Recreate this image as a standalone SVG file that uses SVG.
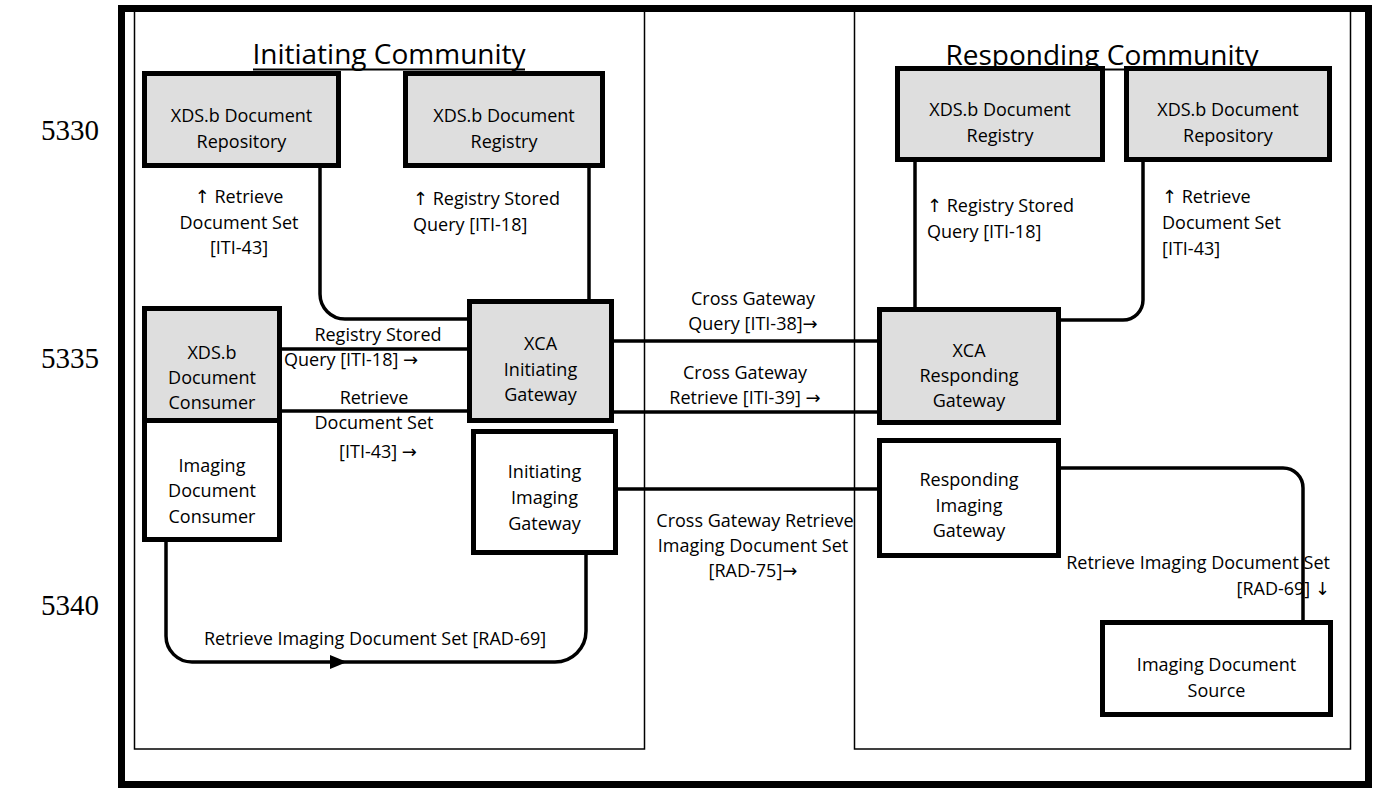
<svg xmlns="http://www.w3.org/2000/svg" width="1373" height="789" viewBox="0 0 1373 789">
<style>
text{font-family:"Open Sans","Noto Sans","DejaVu Sans",sans-serif;font-size:18px;fill:#000}
.num{font-family:"Liberation Serif","Times New Roman",serif;font-size:29px}
.title{font-size:28px;text-anchor:middle}
.c{text-anchor:middle}
.e{text-anchor:end}
.frame{fill:none;stroke:#000;stroke-width:1.5}
.box{stroke:#000;stroke-width:5}
.g{fill:#dedede}
.w{fill:#fff}
.ln{fill:none;stroke:#000;stroke-width:3.5}
</style>
<rect width="1373" height="789" fill="#fff"/>
<g id="line-numbers">
<text class="num" x="41" y="140">5330</text>
<text class="num" x="41" y="368">5335</text>
<text class="num" x="41" y="615">5340</text>
</g>
<g id="labels">
<text class="c" x="239" y="203">↑ Retrieve</text>
<text class="c" x="239" y="229">Document Set</text>
<text class="c" x="239" y="254">[ITI-43]</text>
<text x="413" y="205">↑ Registry Stored</text>
<text x="413" y="231">Query [ITI-18]</text>
<text x="927" y="212">↑ Registry Stored</text>
<text x="927" y="238">Query [ITI-18]</text>
<text x="1162" y="203">↑ Retrieve</text>
<text x="1162" y="229">Document Set</text>
<text x="1162" y="255">[ITI-43]</text>
<text class="c" x="378" y="341">Registry Stored</text>
<text x="284" y="366">Query [ITI-18] →</text>
<text class="c" x="374" y="404">Retrieve</text>
<text class="c" x="374" y="429">Document Set</text>
<text class="c" x="378" y="458">[ITI-43] →</text>
<text class="c" x="753" y="305">Cross Gateway</text>
<text class="c" x="753" y="330">Query [ITI-38]→</text>
<text class="c" x="745" y="379">Cross Gateway</text>
<text class="c" x="745" y="404">Retrieve [ITI-39] →</text>
<text class="c" x="755" y="527">Cross Gateway Retrieve</text>
<text class="c" x="753" y="552">Imaging Document Set</text>
<text class="c" x="753" y="577">[RAD-75]→</text>
<text class="e" x="1330" y="569">Retrieve Imaging Document Set</text>
<text class="e" x="1330" y="595">[RAD-69] ↓</text>
<text x="204" y="645">Retrieve Imaging Document Set [RAD-69]</text>
</g>
<g id="frames">
<rect x="121.5" y="8.5" width="1247" height="776" fill="none" stroke="#000" stroke-width="7"/>
<rect class="frame" x="134.5" y="10" width="510" height="739"/>
<rect class="frame" x="854.5" y="10" width="496" height="739"/>
<text class="title" x="389" y="64">Initiating Community</text>
<line x1="253" y1="69.5" x2="525" y2="69.5" stroke="#000" stroke-width="2"/>
<text class="title" x="1102" y="65">Responding Community</text>
<line x1="946" y1="69.5" x2="1258" y2="69.5" stroke="#000" stroke-width="2"/>
</g>
<g id="connectors">
<path class="ln" d="M320,168 V294 A25,25 0 0 0 345,319 H467"/>
<path class="ln" d="M589,167 V299"/>
<path class="ln" d="M282,349 H467"/>
<path class="ln" d="M282,411 H467"/>
<path class="ln" d="M614,341 H877"/>
<path class="ln" d="M614,412 H877"/>
<path class="ln" d="M618,489 H877"/>
<path class="ln" d="M915,162 V307"/>
<path class="ln" d="M1143,162 V300 A20,20 0 0 1 1123,320 H1061"/>
<path class="ln" d="M1061,468 H1283 A20,20 0 0 1 1303,488 V620"/>
<path class="ln" d="M166,542 V636 A26,26 0 0 0 192,662 H555 A31,31 0 0 0 586,631 V555"/>
<polygon points="330,655 347,662 330,669" fill="#000"/>
</g>
<g id="repo-left">
<rect class="box g" x="144.5" y="73.5" width="194" height="92"/>
<text class="c" x="241.5" y="122">XDS.b Document</text>
<text class="c" x="241.5" y="148">Repository</text>
</g>
<g id="registry-left">
<rect class="box g" x="405.5" y="73.5" width="197" height="92"/>
<text class="c" x="504" y="122">XDS.b Document</text>
<text class="c" x="504" y="148">Registry</text>
</g>
<g id="registry-right">
<rect class="box g" x="897.5" y="68.5" width="205" height="91"/>
<text class="c" x="1000" y="116">XDS.b Document</text>
<text class="c" x="1000" y="142">Registry</text>
</g>
<g id="repo-right">
<rect class="box g" x="1126.5" y="68.5" width="203" height="91"/>
<text class="c" x="1228" y="116">XDS.b Document</text>
<text class="c" x="1228" y="142">Repository</text>
</g>
<g id="xds-consumer">
<rect class="box g" x="144.5" y="308.5" width="135" height="112"/>
<text class="c" x="212" y="359">XDS.b</text>
<text class="c" x="212" y="384">Document</text>
<text class="c" x="212" y="409">Consumer</text>
</g>
<g id="imaging-consumer">
<rect class="box w" x="144.5" y="420.5" width="135" height="119"/>
<text class="c" x="212" y="472">Imaging</text>
<text class="c" x="212" y="497">Document</text>
<text class="c" x="212" y="523">Consumer</text>
</g>
<g id="xca-initiating">
<rect class="box g" x="469.5" y="301.5" width="142" height="119"/>
<text class="c" x="540.5" y="350">XCA</text>
<text class="c" x="540.5" y="376">Initiating</text>
<text class="c" x="540.5" y="401">Gateway</text>
</g>
<g id="initiating-imaging">
<rect class="box w" x="473.5" y="431.5" width="142" height="121"/>
<text class="c" x="544.5" y="478">Initiating</text>
<text class="c" x="544.5" y="504">Imaging</text>
<text class="c" x="544.5" y="530">Gateway</text>
</g>
<g id="xca-responding">
<rect class="box g" x="879.5" y="309.5" width="179" height="113"/>
<text class="c" x="969" y="357">XCA</text>
<text class="c" x="969" y="382">Responding</text>
<text class="c" x="969" y="407">Gateway</text>
</g>
<g id="responding-imaging">
<rect class="box w" x="879.5" y="440.5" width="179" height="115"/>
<text class="c" x="969" y="486">Responding</text>
<text class="c" x="969" y="512">Imaging</text>
<text class="c" x="969" y="537">Gateway</text>
</g>
<g id="imaging-source">
<rect class="box w" x="1102.5" y="622.5" width="228" height="92"/>
<text class="c" x="1216.5" y="671">Imaging Document</text>
<text class="c" x="1216.5" y="697">Source</text>
</g>
</svg>
